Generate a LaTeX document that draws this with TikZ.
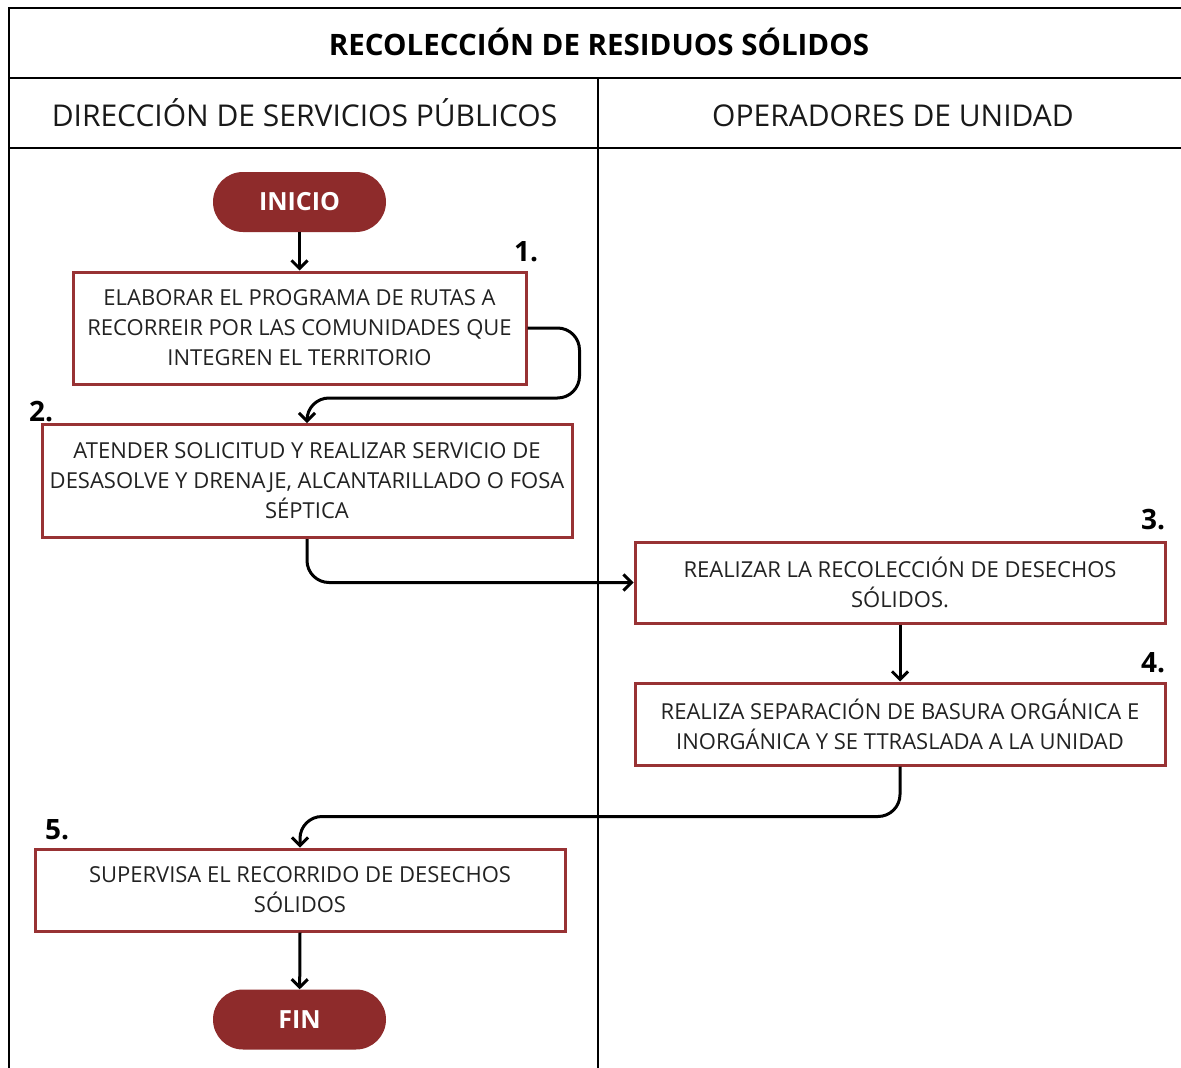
\documentclass[tikz,border=0pt]{standalone}
\usepackage{fontspec}
\setmainfont{Open Sans}
\usetikzlibrary{arrows.meta}
\definecolor{wine}{HTML}{8E2B2B}
\definecolor{boxred}{HTML}{983234}
\definecolor{txt}{HTML}{222222}
\tikzset{
  grid/.style={line width=2pt, black},
  stepbox/.style={draw=boxred, line width=3pt, fill=white, align=center, text=txt,
    font=\fontsize{22}{30}\selectfont, inner sep=0pt},
  term/.style={fill=wine, rounded corners=30pt, minimum width=173pt, minimum height=60pt,
    text=white, font=\fontsize{25}{30}\selectfont\bfseries, inner sep=0pt},
  num/.style={font=\fontsize{28}{30}\selectfont\bfseries, text=black, inner sep=0pt},
  conn/.style={line width=3pt, black, rounded corners=22pt, -{Straight Barb[length=8pt,width=16pt]}},
  hdr/.style={font=\fontsize{30}{34}\selectfont, text=black!90, inner sep=0pt, anchor=base},
}
\begin{document}
\begin{tikzpicture}[x=1pt, y=-1pt]
\useasboundingbox (0,0) rectangle (1181,1068);
\fill[white] (0,0) rectangle (1181,1068);
% table
\draw[grid] (1181,8) -- (9,8) -- (9,1068);
\draw[grid] (9,78) -- (1181,78);
\draw[grid] (9,148) -- (1181,148);
\draw[grid] (598,78) -- (598,1068);
\node[font=\fontsize{29.5}{30}\selectfont\bfseries, inner sep=0pt, anchor=base] (title) at (599,55) {RECOLECCIÓN DE RESIDUOS SÓLIDOS};
\node[hdr] (h1) at (304.5,126) {DIRECCIÓN DE SERVICIOS PÚBLICOS};
\node[hdr] (h2) at (893,126) {OPERADORES DE UNIDAD};
% nodes
\node[term] (ini) at (299.5,202) {INICIO};
\node[stepbox, minimum width=453pt, minimum height=112pt] (b1) at (299.5,328)
  {ELABORAR EL PROGRAMA DE RUTAS A\\RECORREIR POR LAS COMUNIDADES QUE\\INTEGREN EL TERRITORIO};
\node[stepbox, minimum width=530pt, minimum height=113pt] (b2) at (307,481)
  {ATENDER SOLICITUD Y REALIZAR SERVICIO DE\\DESASOLVE Y DRENAJE, ALCANTARILLADO O FOSA\\SÉPTICA};
\node[stepbox, minimum width=530pt, minimum height=81pt] (b3) at (900,582.5)
  {REALIZAR LA RECOLECCIÓN DE DESECHOS\\SÓLIDOS.};
\node[stepbox, minimum width=530pt, minimum height=82pt] (b4) at (900,724)
  {REALIZA SEPARACIÓN DE BASURA ORGÁNICA E\\INORGÁNICA Y SE TTRASLADA A LA UNIDAD};
\node[stepbox, minimum width=530pt, minimum height=82pt] (b5) at (300,890)
  {SUPERVISA EL RECORRIDO DE DESECHOS\\SÓLIDOS};
\node[term] (fin) at (299.5,1019.5) {FIN};
% numbers
\node[num] (n1) at (526,252) {1.};
\node[num] (n2) at (41,412) {2.};
\node[num] (n3) at (1153,520) {3.};
\node[num] (n4) at (1153,663) {4.};
\node[num] (n5) at (57,830) {5.};
% connectors
\draw[conn] (ini) -- (b1);
\draw[conn] (b1.east) -- ++(52,0) -- ++(0,70) -| (b2.north);
\draw[conn] (b2.south) |- (b3.west);
\draw[conn] (b3.south) -- (b4.north);
\draw[conn] (b4.south) -- ++(0,50) -| (b5.north);
\draw[conn] (b5.south) -- (fin);
\end{tikzpicture}
\end{document}
